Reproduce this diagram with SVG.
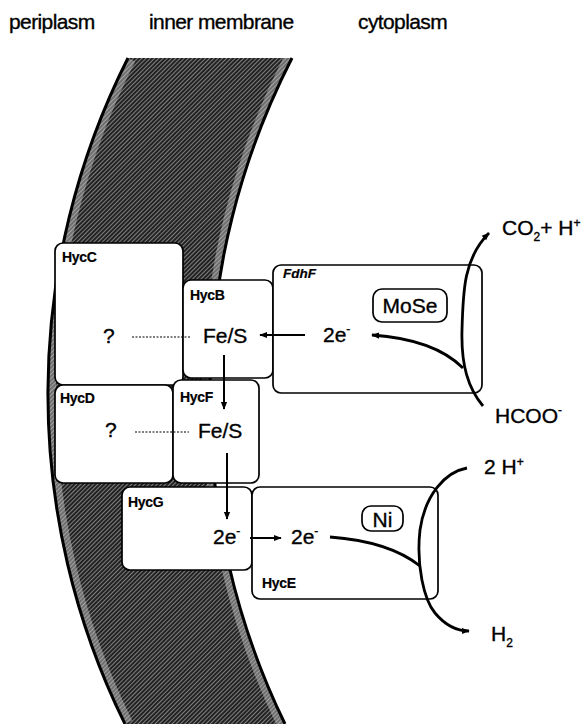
<svg xmlns="http://www.w3.org/2000/svg" width="586" height="724" viewBox="0 0 586 724">
<style>
text{font-family:"Liberation Sans",Arial,Helvetica,sans-serif;fill:#000;stroke:#000;stroke-width:0.35}
.hdr{font-size:21px;letter-spacing:-0.6px}
.lbl{font-size:14px;font-weight:bold;letter-spacing:-0.3px;stroke-width:0.2}
.lbli{font-size:13.5px;font-weight:bold;font-style:italic;stroke-width:0.2}
.big{font-size:21px}
.box{fill:#fff;stroke:#000;stroke-width:1.7}
.dot{stroke:#000;stroke-width:1.1;stroke-dasharray:2 1.5;fill:none}
.arr{stroke:#000;stroke-width:2;fill:none;marker-end:url(#ah)}
.curve{stroke:#000;stroke-width:2.8;fill:none}
.sup{font-size:12px}
</style>
<defs>
<pattern id="hatch" width="3" height="3" patternUnits="userSpaceOnUse" patternTransform="rotate(45)">
<rect width="3" height="3" fill="#222"/>
<line x1="0" y1="0" x2="0" y2="3" stroke="#e6e6e6" stroke-width="0.95"/>
</pattern>
<clipPath id="memclip">
<path d="M128,58 L292,58 A745,745 0 0 0 285,724 L125,724 A745,745 0 0 1 128,58 Z"/>
</clipPath>
<marker id="ah" viewBox="0 0 10 10" refX="9" refY="5" markerWidth="8" markerHeight="8" markerUnits="userSpaceOnUse" orient="auto">
<path d="M0,1 L10,5 L0,9 Z" fill="#000"/>
</marker>
</defs>

<g id="header">
<text class="hdr" x="9" y="29">periplasm</text>
<text class="hdr" x="149" y="29">inner membrane</text>
<text class="hdr" x="358" y="29">cytoplasm</text>
</g>

<g id="membrane">
<path d="M128,58 L292,58 A745,745 0 0 0 285,724 L125,724 A745,745 0 0 1 128,58 Z" fill="url(#hatch)"/>
<path d="M292,58 A745,745 0 0 0 285,724 M125,724 A745,745 0 0 1 128,58" fill="none" stroke="#cfcfcf" stroke-opacity="0.45" stroke-width="16" clip-path="url(#memclip)"/>
<path d="M292,58 A745,745 0 0 0 285,724 M125,724 A745,745 0 0 1 128,58" fill="none" stroke="#000" stroke-width="3"/>
</g>

<g id="HycC">
<rect class="box" x="55" y="243" width="128" height="142" rx="8"/>
<text class="lbl" x="62" y="262">HycC</text>
<text class="big" x="103" y="343">?</text>
</g>
<g id="HycD">
<rect class="box" x="55" y="385" width="118" height="98" rx="8"/>
<text class="lbl" x="60" y="403">HycD</text>
<text class="big" x="105" y="437">?</text>
</g>
<g id="HycB">
<rect class="box" x="183" y="280" width="90" height="98" rx="8"/>
<text class="lbl" x="190" y="300">HycB</text>
<text class="big" x="203" y="343">Fe/S</text>
</g>
<g id="HycF">
<rect class="box" x="173" y="380" width="86" height="103" rx="8"/>
<text class="lbl" x="180" y="402">HycF</text>
<text class="big" x="198" y="438">Fe/S</text>
</g>
<g id="FdhF">
<rect class="box" x="273" y="265" width="209" height="128" rx="8"/>
<text class="lbli" x="283" y="278">FdhF</text>
<text class="big" x="323" y="342">2e<tspan class="sup" dy="-9">-</tspan></text>
<rect x="373" y="289" width="74" height="33" rx="9" fill="#fff" stroke="#000" stroke-width="1.7"/>
<text class="big" x="410" y="313" text-anchor="middle">MoSe</text>
</g>
<g id="HycG">
<rect class="box" x="122" y="487" width="130" height="83" rx="8"/>
<text class="lbl" x="128" y="507">HycG</text>
<text class="big" x="213" y="544">2e<tspan class="sup" dy="-9">-</tspan></text>
</g>
<g id="HycE">
<rect class="box" x="252" y="487" width="186" height="112" rx="8"/>
<text class="lbl" x="262" y="588">HycE</text>
<text class="big" x="291" y="544">2e<tspan class="sup" dy="-9">-</tspan></text>
<rect x="362" y="506" width="41" height="25" rx="9" fill="#fff" stroke="#000" stroke-width="1.7"/>
<text class="big" x="382.5" y="527" text-anchor="middle">Ni</text>
</g>

<g id="species">
<text class="big" x="502" y="235">CO<tspan class="sup" font-size="14px" dy="6">2</tspan><tspan dy="-6">+ H</tspan><tspan class="sup" font-size="14px" dy="-8">+</tspan></text>
<text class="big" x="495" y="423">HCOO<tspan class="sup" dy="-9">-</tspan></text>
<text class="big" x="484" y="474">2 H<tspan class="sup" font-size="14px" dy="-8">+</tspan></text>
<text class="big" x="491" y="641">H<tspan class="sup" font-size="14px" dy="6">2</tspan></text>
</g>

<g id="connectors">
<line class="dot" x1="132" y1="337" x2="191" y2="337"/>
<line class="dot" x1="135" y1="432" x2="189" y2="432"/>
<line class="arr" x1="305" y1="335" x2="260" y2="335"/>
<line class="arr" x1="224" y1="355" x2="224" y2="409"/>
<line class="arr" x1="227" y1="453" x2="227" y2="519"/>
<line class="arr" x1="250" y1="538" x2="281" y2="538"/>
<path class="curve" d="M483,406 C468,388 461,365 462,330 C463,290 464,258 489,233" marker-end="url(#ah)"/>
<path class="curve" d="M463,368 C445,350 415,338 372,335" marker-end="url(#ah)"/>
<path class="curve" d="M467,468 C445,472 425,495 420,530 C416,565 424,600 435,613 C445,625 455,631 469,631" marker-end="url(#ah)"/>
<path class="curve" d="M330,537 C370,540 400,550 420,566"/>
</g>
</svg>
